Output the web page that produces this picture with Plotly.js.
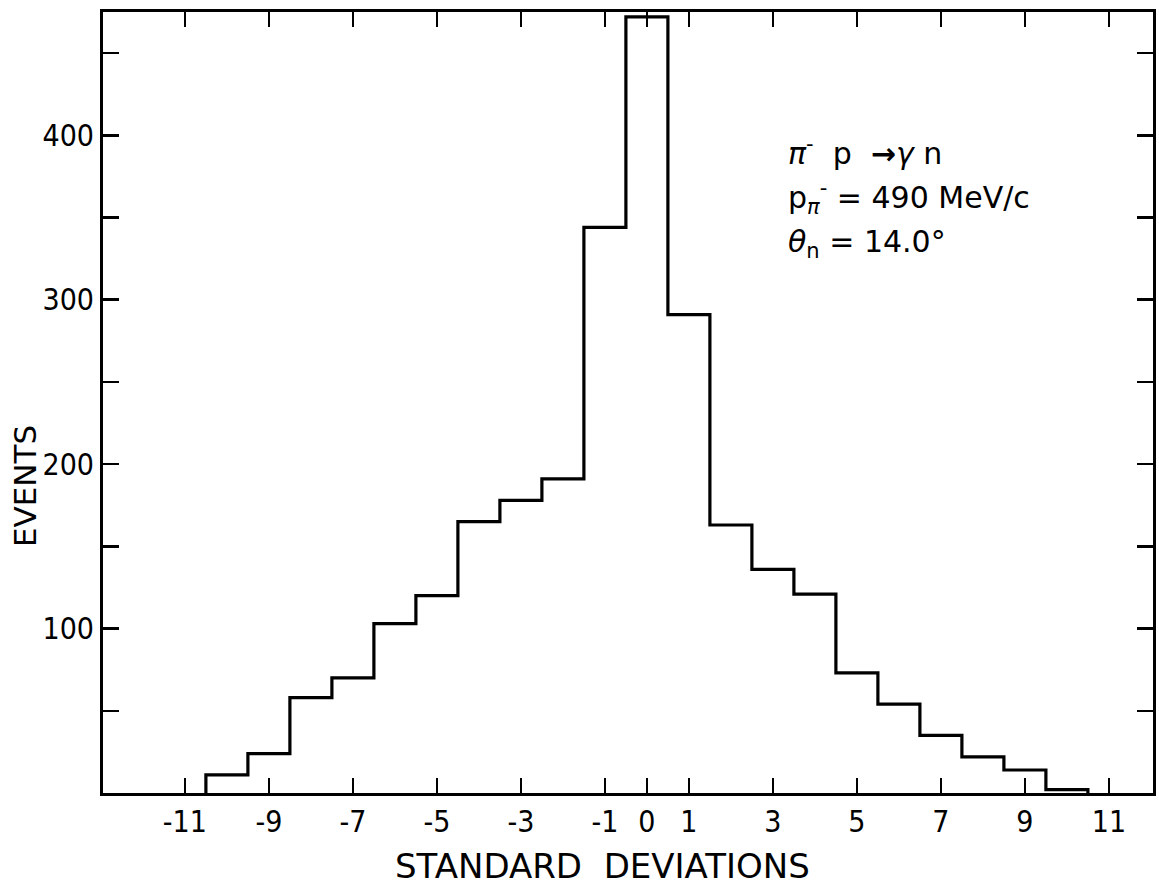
<!DOCTYPE html>
<html>
<head>
<meta charset="utf-8">
<script src="https://cdn.plot.ly/plotly-3.0.1.min.js"></script>
<style>
  html, body { margin: 0; padding: 0; background: #fff; }
  #chart { width: 1159px; height: 890px; }
</style>
</head>
<body>
<div id="chart"></div>
<script>
// Bin centres (standard deviations) and event counts
const binCenters = [-10, -9, -8, -7, -6, -5, -4, -3, -2, -1, 0, 1, 2, 3, 4, 5, 6, 7, 8, 9, 10];
const eventCounts = [11, 24, 58, 70, 103, 120, 165, 178, 191, 344, 472, 291, 163, 136, 121, 73, 54, 35, 22, 14, 2];
const binWidth = 1;

const xTickVals = [-11, -9, -7, -5, -3, -1, 0, 1, 3, 5, 7, 9, 11];
const xTickText = ["-11", "-9", "-7", "-5", "-3", "-1", "0", "1", "3", "5", "7", "9", "11"];
const yTickVals = [50, 100, 150, 200, 250, 300, 350, 400, 450];
const yTickText = ["", "100", "", "200", "", "300", "", "400", ""];

// Build the step outline from the bins
const stepX = [binCenters[0] - binWidth / 2];
const stepY = [0];
binCenters.forEach((c, i) => { stepX.push(c - binWidth / 2); stepY.push(eventCounts[i]); });
stepX.push(binCenters[binCenters.length - 1] + binWidth / 2);
stepY.push(0);

const tickFont = { family: "DejaVu Sans Condensed, Liberation Sans Narrow, sans-serif", size: 30, color: "#000" };
const textFont = { family: "DejaVu Sans, Verdana, sans-serif", size: 30, color: "#000" };

const trace = {
  x: stepX, y: stepY, type: "scatter", mode: "lines",
  line: { shape: "hv", color: "#000", width: 3.2 },
  hoverinfo: "skip", showlegend: false
};

const layout = {
  width: 1159, height: 890,
  margin: { l: 103, r: 6, t: 12, b: 97 },
  paper_bgcolor: "#fff", plot_bgcolor: "#fff",
  showlegend: false,
  xaxis: {
    range: [-12.95, 12.05], showgrid: false, zeroline: false,
    showline: true, linecolor: "#000", linewidth: 3, mirror: "allticks",
    ticks: "inside", ticklen: 15, tickwidth: 2.5, tickcolor: "#000",
    tickvals: xTickVals, ticktext: xTickText, tickfont: tickFont
  },
  yaxis: {
    range: [0, 475], showgrid: false, zeroline: false,
    showline: true, linecolor: "#000", linewidth: 3, mirror: "allticks",
    ticks: "inside", ticklen: 16, tickwidth: 2.5, tickcolor: "#000",
    tickvals: yTickVals, ticktext: yTickText, tickfont: tickFont
  },
  annotations: [
    { text: "STANDARD  DEVIATIONS", xref: "paper", yref: "paper", x: 0.476, y: -0.094,
      xanchor: "center", yanchor: "middle", showarrow: false, font: { family: textFont.family, size: 34, color: "#000" } },
    { text: "EVENTS", xref: "paper", yref: "paper", x: -0.0743, y: 0.393, textangle: -90,
      xanchor: "center", yanchor: "middle", showarrow: false, font: { family: textFont.family, size: 31, color: "#000" } },
    { text: "<i>π</i><sup>-</sup>  p  <b>→</b><i>γ</i> n", xref: "paper", yref: "paper", x: 0.65, y: 0.822,
      xanchor: "left", yanchor: "middle", showarrow: false, font: textFont },
    { text: "p<sub><i>π</i></sub><sup>-</sup> = 490 MeV/c", xref: "paper", yref: "paper", x: 0.65, y: 0.762,
      xanchor: "left", yanchor: "middle", showarrow: false, font: textFont },
    { text: "<i>θ</i><sub>n</sub> = 14.0°", xref: "paper", yref: "paper", x: 0.65, y: 0.704,
      xanchor: "left", yanchor: "middle", showarrow: false, font: textFont }
  ]
};

Plotly.newPlot("chart", [trace], layout, { displayModeBar: false, staticPlot: true });
</script>
</body>
</html>
